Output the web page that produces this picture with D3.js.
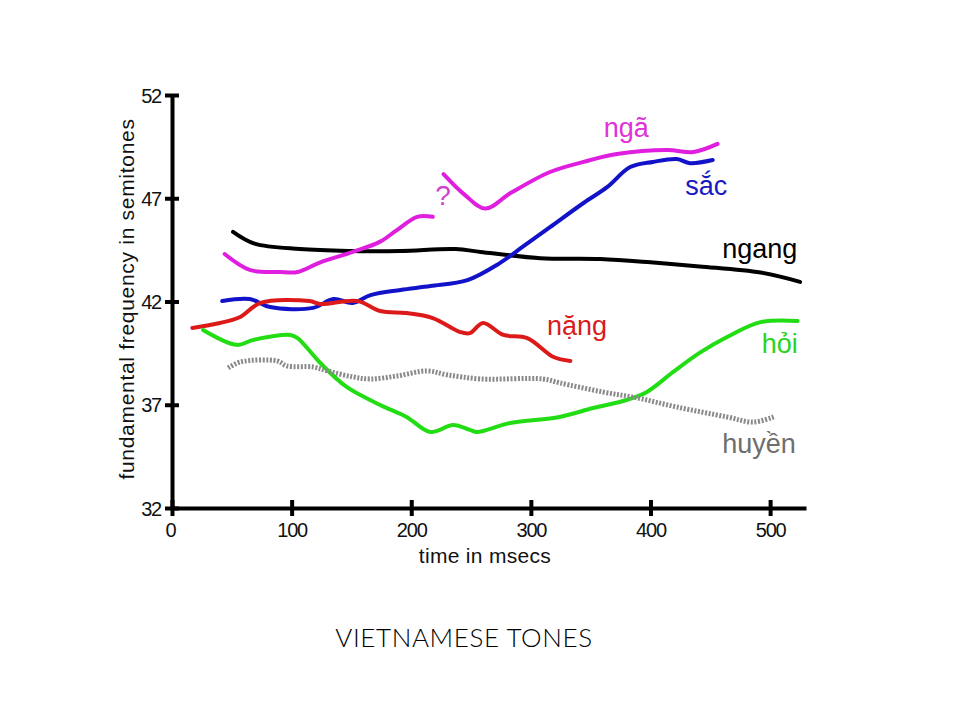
<!DOCTYPE html>
<html>
<head>
<meta charset="utf-8">
<script src="https://cdn.jsdelivr.net/npm/d3@7"></script>
<style>
  body { margin: 0; background: #fff; }
  svg { display: block; font-family: "Liberation Sans", Arial, sans-serif; }
</style>
</head>
<body>
<svg width="960" height="720"></svg>
<script>
// tone contours: [time ms, semitones]
const ngang = [[51,45.37],[69,44.8],[107,44.54],[149,44.45],[191,44.45],[237,44.54],[258,44.4],[308,44.1],[358,44.06],[400,43.9],[441,43.7],[492,43.4],[525,42.95]];
const nga1 = [[44,44.3],[65,43.53],[90,43.43],[105,43.43],[124,43.9],[151,44.4],[174,44.9],[188,45.46],[205,46.1],[218,46.1]];
const nga2 = [[227,48.17],[245,47.15],[262,46.5],[283,47.25],[316,48.27],[344,48.76],[372,49.14],[414,49.34],[436,49.24],[456,49.63]];
const sac = [[42,42.02],[65,42.12],[82,41.73],[118,41.69],[135,42.12],[151,41.93],[166,42.31],[191,42.56],[216,42.75],[247,43.04],[274,43.86],[293,44.64],[316,45.6],[344,46.77],[364,47.55],[383,48.51],[402,48.76],[422,48.9],[433,48.7],[452,48.85]];
const nang = [[17,40.72],[40,40.96],[57,41.25],[74,41.93],[115,42.02],[124,41.88],[155,42.02],[174,41.54],[196,41.44],[218,41.2],[241,40.52],[249,40.47],[260,40.96],[277,40.38],[297,40.23],[319,39.31],[333,39.12]];
const hoi = [[26,40.62],[54,39.9],[68,40.14],[99,40.38],[105,40.23],[124,39.02],[146,37.86],[174,36.99],[196,36.41],[216,35.68],[235,36.02],[249,35.78],[255,35.68],[283,36.12],[324,36.41],[352,36.84],[380,37.23],[397,37.62],[419,38.59],[441,39.51],[464,40.28],[492,41.0],[523,41.06]];
const huyen = [[47,38.78],[57,39.07],[88,39.12],[96,38.88],[118,38.83],[130,38.64],[151,38.35],[166,38.25],[188,38.39],[213,38.64],[230,38.45],[258,38.25],[310,38.25],[324,38.06],[360,37.62],[389,37.33],[422,36.89],[464,36.41],[486,36.16],[503,36.41]];

const xTicks = [0, 100, 200, 300, 400, 500];
const yTicks = [32, 37, 42, 47, 52];

const series = [
  {name: "ngang", pts: ngang, color: "#000000"},
  {name: "ngã", pts: nga1, color: "#e01ee0"},
  {name: "ngã2", pts: nga2, color: "#e01ee0"},
  {name: "sắc", pts: sac, color: "#1212c8"},
  {name: "nặng", pts: nang, color: "#dd1a1a"},
  {name: "hỏi", pts: hoi, color: "#22dd14"},
  {name: "huyền", pts: huyen, color: "#8a8a8a", dash: "2,1.6"}
];

// label anchors (left/baseline) in data units
const labels = [
  {text: "ngã", t: 361, v: 49.97, color: "#e030d8"},
  {text: "sắc", t: 429, v: 47.16, color: "#1a1ac0"},
  {text: "ngang", t: 460, v: 44.11, color: "#000000"},
  {text: "nặng", t: 313.5, v: 40.38, color: "#d81c1c"},
  {text: "hỏi", t: 493, v: 39.51, color: "#2ad41c"},
  {text: "huyền", t: 460, v: 34.66, color: "#6e6e6e"},
  {text: "?", t: 220, v: 46.67, color: "#d040d0"}
];

var svg = d3.select("svg");

var x = d3.scaleLinear().domain([0, 530]).range([172, 806]);
var y = d3.scaleLinear().domain([32, 52]).range([508, 95]);

var line = d3.line()
    .x(function(d) { return x(d[0]); })
    .y(function(d) { return y(d[1]); })
    .curve(d3.curveCatmullRom);

svg.selectAll("path.tone")
  .data(series)
  .enter().append("path")
    .attr("class", "tone")
    .attr("d", function(d) { return line(d.pts); })
    .attr("fill", "none")
    .attr("stroke", function(d) { return d.color; })
    .attr("stroke-width", function(d) { return d.dash ? 5 : 4; })
    .attr("stroke-dasharray", function(d) { return d.dash || null; })
    .attr("stroke-linecap", function(d) { return d.dash ? "butt" : "round"; })
    .attr("stroke-linejoin", "round");

// axes
var xAxis = svg.append("g")
    .attr("transform", "translate(0," + y(32) + ")")
    .call(d3.axisBottom(x).tickValues(xTicks).tickSize(8).tickSizeOuter(0).tickPadding(14));

var yAxis = svg.append("g")
    .attr("transform", "translate(" + x(0) + ",0)")
    .call(d3.axisLeft(y).tickValues(yTicks).tickSize(8).tickSizeOuter(0).tickPadding(3));

[xAxis, yAxis].forEach(function(g) {
  g.select(".domain").attr("stroke", "#000").attr("stroke-width", 4);
  g.selectAll(".tick line").attr("stroke", "#000").attr("stroke-width", 4);
  g.selectAll(".tick text")
    .attr("fill", "#111")
    .style("font-size", "20px")
    .style("font-family", "'Liberation Sans', Arial, sans-serif")
    .style("letter-spacing", "-1.2px");
});
xAxis.selectAll(".tick line").attr("y1", -8).attr("y2", 8);
yAxis.selectAll(".tick line").attr("x1", -7).attr("x2", 7);
yAxis.selectAll(".tick text").attr("dy", "0.36em");
xAxis.selectAll(".tick text").attr("y", 29).attr("dy", 0);
xAxis.select(".tick text").attr("dx", "-2");

svg.append("text")
    .attr("x", 485)
    .attr("y", 563)
    .attr("text-anchor", "middle")
    .style("font-size", "21px")
    .style("letter-spacing", "0.3px")
    .attr("fill", "#111")
    .text("time in msecs");

svg.append("text")
    .attr("transform", "translate(134,299) rotate(-90)")
    .attr("text-anchor", "middle")
    .style("font-size", "21px")
    .style("letter-spacing", "0.7px")
    .attr("fill", "#111")
    .text("fundamental frequency in semitones");

svg.selectAll("text.lab")
  .data(labels)
  .enter().append("text")
    .attr("class", "lab")
    .attr("x", function(d) { return x(d.t); })
    .attr("y", function(d) { return y(d.v); })
    .attr("fill", function(d) { return d.color; })
    .style("font-size", function(d) { return d.text === "?" ? "28px" : "27px"; })
    .style("font-weight", function(d) { return d.text === "?" ? 300 : null; })
    .text(function(d) { return d.text; });

svg.append("text")
    .attr("x", 464)
    .attr("y", 647)
    .attr("text-anchor", "middle")
    .style("font-family", "Lato, 'Open Sans', sans-serif")
    .style("font-weight", 300)
    .style("font-size", "26px")
    .style("letter-spacing", "0.6px")
    .attr("fill", "#000")
    .text("VIETNAMESE TONES");
</script>
</body>
</html>
